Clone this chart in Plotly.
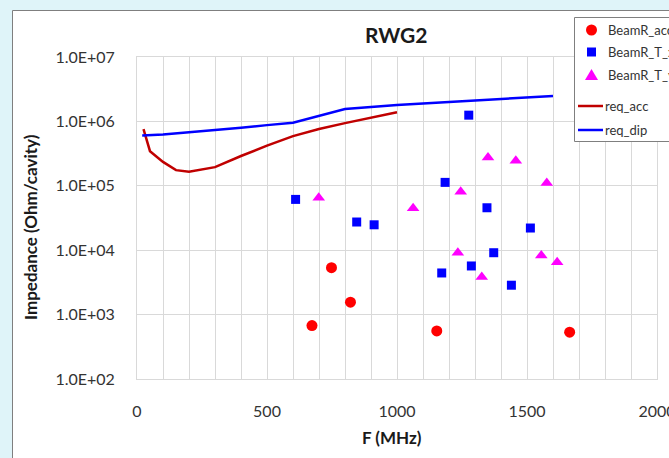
import plotly.graph_objects as go

# ---------------- data ----------------
acc_f = [673, 748, 821, 1153, 1664]
acc_z = [675, 5360, 1560, 558, 533]

tx_f = [610, 845, 912, 1172, 1185, 1276, 1286, 1346, 1372, 1440, 1513]
tx_z = [61500, 27400, 24800, 4430, 113000, 1250000, 5690, 45600, 9140, 2860, 22100]

ty_f = [699, 1062, 1234, 1245, 1326, 1350, 1457, 1555, 1576, 1616]
ty_z = [65000, 44700, 9100, 80700, 3850, 276000, 244000, 8300, 111000, 6500]

req_acc_f = [25, 50, 100, 150, 200, 300, 400, 500, 600, 700, 800, 900, 1000]
req_acc_z = [757000, 345000, 235000, 175000, 165000, 195000, 290000, 420000,
             590000, 760000, 940000, 1140000, 1390000]

req_dip_f = [20, 100, 200, 300, 400, 500, 600, 800, 1000, 1200, 1400, 1600]
req_dip_z = [604000, 625000, 680000, 730000, 800000, 875000, 950000, 1560000,
             1800000, 2000000, 2230000, 2480000]

x_tickvals = list(range(0, 2001, 100))
x_ticktext = [str(v) if v % 500 == 0 else "" for v in x_tickvals]
y_tickvals = [1e2, 1e3, 1e4, 1e5, 1e6, 1e7]
y_ticktext = ["1.0E+02", "1.0E+03", "1.0E+04", "1.0E+05", "1.0E+06", "1.0E+07"]

legend_names = ["BeamR_acc", "BeamR_T_x", "BeamR_T_y", "req_acc", "req_dip"]

# ---------------- layout geometry ----------------
W, H = 669, 458
L, T, PW, PH = 137, 57, 520, 322
FONT = "Lato"
TXT = "#333333"
GRID = "#D9D9D9"


def px(xp):
    return (xp - L) / PW


def py(yp):
    return (T + PH - yp) / PH


fig = go.Figure()
fig.add_trace(go.Scatter(x=req_acc_f, y=req_acc_z, mode="lines", name=legend_names[3],
                         line=dict(color="#C00000", width=2.5), showlegend=False))
fig.add_trace(go.Scatter(x=req_dip_f, y=req_dip_z, mode="lines", name=legend_names[4],
                         line=dict(color="#0000FF", width=2.5), showlegend=False))
fig.add_trace(go.Scatter(x=acc_f, y=acc_z, mode="markers", name=legend_names[0],
                         marker=dict(symbol="circle", size=11, color="#FF0000"), showlegend=False))
fig.add_trace(go.Scatter(x=tx_f, y=tx_z, mode="markers", name=legend_names[1],
                         marker=dict(symbol="square", size=9, color="#0000FF"), showlegend=False))
fig.add_trace(go.Scatter(x=ty_f, y=ty_z, mode="markers", name=legend_names[2],
                         marker=dict(symbol="triangle-up", size=11, color="#FF00FF"), showlegend=False))

shapes = []
# chart area (white with grey border)
shapes.append(dict(type="rect", xref="paper", yref="paper", layer="below",
                   x0=px(12.5), x1=px(700), y0=py(480), y1=py(10.5),
                   fillcolor="white", line=dict(color="#7F7F7F", width=1)))
# legend box
shapes.append(dict(type="rect", xref="paper", yref="paper", layer="above",
                   x0=px(574.5), x1=px(700), y0=py(141.5), y1=py(17.5),
                   fillcolor="white", line=dict(color="#7F7F7F", width=1)))
# legend swatches
mx = 591.5
shapes.append(dict(type="circle", xref="paper", yref="paper", layer="above",
                   x0=px(mx - 5.5), x1=px(mx + 5.5), y0=py(30 + 5.5), y1=py(30 - 5.5),
                   fillcolor="#FF0000", line=dict(width=0)))
shapes.append(dict(type="rect", xref="paper", yref="paper", layer="above",
                   x0=px(mx - 4.5), x1=px(mx + 4.5), y0=py(52 + 4.5), y1=py(52 - 4.5),
                   fillcolor="#0000FF", line=dict(width=0)))
ty = 75
shapes.append(dict(type="path", xref="paper", yref="paper", layer="above",
                   path=f"M {px(mx - 6.5)},{py(ty + 5)} L {px(mx + 6.5)},{py(ty + 5)} L {px(mx)},{py(ty - 6)} Z",
                   fillcolor="#FF00FF", line=dict(width=0)))
shapes.append(dict(type="line", xref="paper", yref="paper", layer="above",
                   x0=px(578), x1=px(603), y0=py(106), y1=py(106),
                   line=dict(color="#C00000", width=2.5)))
shapes.append(dict(type="line", xref="paper", yref="paper", layer="above",
                   x0=px(578), x1=px(603), y0=py(130), y1=py(130),
                   line=dict(color="#0000FF", width=2.5)))

annotations = []
for name, xp, yp in [(legend_names[0], 606, 30), (legend_names[1], 606, 52),
                     (legend_names[2], 606, 75), (legend_names[3], 603, 106),
                     (legend_names[4], 603, 130)]:
    annotations.append(dict(text=name, xref="paper", yref="paper", x=px(xp), y=py(yp),
                            xanchor="left", yanchor="middle", showarrow=False,
                            font=dict(family=FONT, size=13, color=TXT)))
annotations.append(dict(text="<b>RWG2</b>", xref="paper", yref="paper", x=px(396), y=py(34),
                        xanchor="center", yanchor="middle", showarrow=False,
                        font=dict(family=FONT, size=21, color="#1a1a1a")))
annotations.append(dict(text="<b>F (MHz)</b>", xref="paper", yref="paper", x=px(392), y=py(437),
                        xanchor="center", yanchor="middle", showarrow=False,
                        font=dict(family=FONT, size=17, color="#1a1a1a")))
annotations.append(dict(text="<b>Impedance (Ohm/cavity)</b>", xref="paper", yref="paper",
                        x=px(30), y=py(227), textangle=-90,
                        xanchor="center", yanchor="middle", showarrow=False,
                        font=dict(family=FONT, size=17, color="#1a1a1a")))

fig.update_layout(
    width=W, height=H,
    margin=dict(l=L, r=W - L - PW, t=T, b=H - T - PH, autoexpand=False),
    paper_bgcolor="#DFF4F9",
    plot_bgcolor="white",
    showlegend=False,
    shapes=shapes,
    annotations=annotations,
    xaxis=dict(range=[0, 2000], tickvals=x_tickvals, ticktext=x_ticktext,
               showgrid=True, gridcolor=GRID, gridwidth=1, zeroline=False,
               showline=True, linecolor=GRID, mirror=True, ticks="",
               ticklabelstandoff=18, ticklabeloverflow="allow",
               tickfont=dict(family=FONT, size=16, color=TXT)),
    yaxis=dict(type="log", range=[2, 7], tickvals=y_tickvals, ticktext=y_ticktext,
               showgrid=True, gridcolor=GRID, gridwidth=1, zeroline=False,
               showline=True, linecolor=GRID, mirror=True, ticks="",
               ticklabelstandoff=18,
               tickfont=dict(family=FONT, size=16, color=TXT)),
)

fig.write_html("out.html")
